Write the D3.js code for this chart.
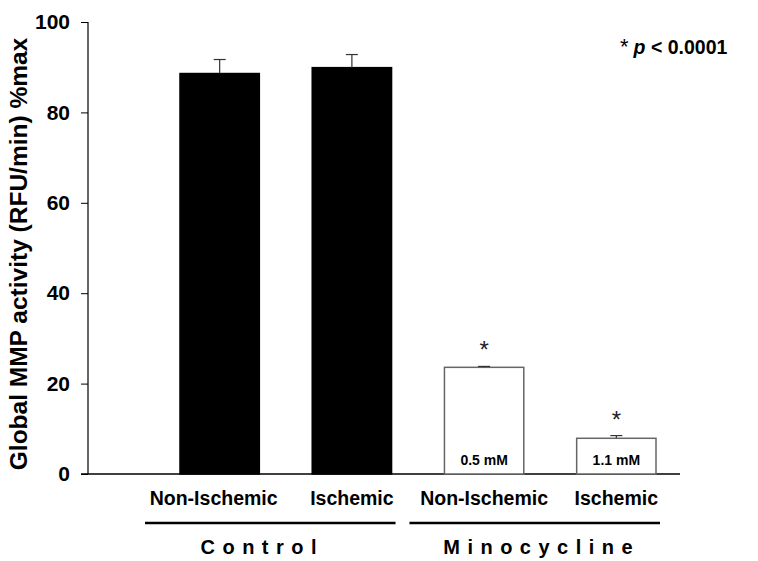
<!DOCTYPE html>
<html>
<head>
<meta charset="utf-8">
<script src="https://cdn.jsdelivr.net/npm/d3@7"></script>
<style>
  body { margin: 0; background: #fff; }
  text { font-family: Arial, "Liberation Sans", sans-serif; }
</style>
</head>
<body>
<script>
// chart data
const conditions = ["Non-Ischemic", "Ischemic", "Non-Ischemic ", "Ischemic "];
const groups = ["Control", "Control", "Minocycline", "Minocycline"];
const activity = [88.6, 89.9, 23.6, 7.9];
const sem = [3.1, 2.9, 0.2, 0.6];
const doses = [null, null, "0.5 mM", "1.1 mM"];
const significant = [false, false, true, true];
const yTicks = [0, 20, 40, 60, 80, 100];

const width = 758, height = 561;
const svg = d3.select("body").append("svg")
  .attr("width", width)
  .attr("height", height);

const x = d3.scaleBand()
  .domain(conditions)
  .range([180, 656])
  .paddingInner(0.4)
  .paddingOuter(0);

const y = d3.scaleLinear().domain([0, 100]).range([474, 22]);

// y axis
const yAxis = svg.append("g")
  .attr("transform", "translate(88,0)")
  .call(d3.axisLeft(y).tickValues(yTicks).tickSize(7).tickPadding(11));
yAxis.select(".domain").attr("stroke", "#000").attr("stroke-width", 1.2)
  .attr("d", `M0,${y(100)}V${y(0)}`);
yAxis.selectAll(".tick line").attr("stroke", "#000");
yAxis.selectAll(".tick text")
  .attr("font-size", 21).attr("font-weight", "bold").attr("fill", "#000")
  .style("font-family", "Arial, 'Liberation Sans', sans-serif");

// x baseline
svg.append("line")
  .attr("x1", 81).attr("x2", 680)
  .attr("y1", y(0)).attr("y2", y(0))
  .attr("stroke", "#000").attr("stroke-width", 1.5);

// bars
svg.selectAll("rect.bar")
  .data(conditions)
  .enter().append("rect")
  .attr("class", "bar")
  .attr("x", d => x(d))
  .attr("width", x.bandwidth())
  .attr("y", (d, i) => y(activity[i]))
  .attr("height", (d, i) => y(0) - y(activity[i]))
  .attr("fill", (d, i) => groups[i] === "Control" ? "#000" : "#fff")
  .attr("stroke", (d, i) => groups[i] === "Control" ? "#000" : "#666")
  .attr("stroke-width", 1.5);

// error bars (upper only)
const err = svg.selectAll("g.err")
  .data(conditions)
  .enter().append("g")
  .attr("class", "err");
err.append("line")
  .attr("x1", d => x(d) + x.bandwidth() / 2)
  .attr("x2", d => x(d) + x.bandwidth() / 2)
  .attr("y1", (d, i) => y(activity[i]))
  .attr("y2", (d, i) => y(activity[i] + sem[i]))
  .attr("stroke", "#333").attr("stroke-width", 1.2);
err.append("line")
  .attr("x1", d => x(d) + x.bandwidth() / 2 - 6)
  .attr("x2", d => x(d) + x.bandwidth() / 2 + 6)
  .attr("y1", (d, i) => y(activity[i] + sem[i]))
  .attr("y2", (d, i) => y(activity[i] + sem[i]))
  .attr("stroke", "#333").attr("stroke-width", 1.2);

// significance stars
svg.selectAll("text.star")
  .data(conditions.filter((d, i) => significant[i]))
  .enter().append("text")
  .attr("class", "star")
  .attr("x", d => x(d) + x.bandwidth() / 2)
  .attr("y", d => {
    const i = conditions.indexOf(d);
    return y(activity[i] + sem[i]) - 8;
  })
  .attr("text-anchor", "middle")
  .attr("font-size", 24)
  .attr("fill", "#222")
  .text("*");

// dose labels inside bars
svg.selectAll("text.dose")
  .data(conditions.filter((d, i) => doses[i]))
  .enter().append("text")
  .attr("class", "dose")
  .attr("x", d => x(d) + x.bandwidth() / 2)
  .attr("y", y(0) - 9)
  .attr("text-anchor", "middle")
  .attr("font-size", 14)
  .attr("font-weight", "bold")
  .text(d => doses[conditions.indexOf(d)]);

// category labels
svg.selectAll("text.cat")
  .data(conditions)
  .enter().append("text")
  .attr("class", "cat")
  .attr("x", (d, i) => x(d) + x.bandwidth() / 2 - (i === 0 ? 6 : 0))
  .attr("y", 505)
  .attr("text-anchor", "middle")
  .attr("font-size", 19.5)
  .attr("font-weight", "bold")
  .text(d => d.trim());

// group underlines and labels
const groupNames = ["Control", "Minocycline"];
const groupShift = { Control: -8, Minocycline: 7 };
groupNames.forEach(g => {
  const members = conditions.filter((d, i) => groups[i] === g);
  const x0 = x(members[0]) - 35;
  const x1 = x(members[members.length - 1]) + x.bandwidth() + 4;
  svg.append("line")
    .attr("x1", x0).attr("x2", x1)
    .attr("y1", 523).attr("y2", 523)
    .attr("stroke", "#000").attr("stroke-width", 2.5);
  svg.append("text")
    .attr("x", (x0 + x1) / 2 + groupShift[g])
    .attr("y", 554)
    .attr("text-anchor", "middle")
    .attr("font-size", 20)
    .attr("font-weight", "bold")
    .attr("letter-spacing", 7.5)
    .text(g);
});

// y axis title
svg.append("text")
  .attr("transform", "translate(27,254) rotate(-90)")
  .attr("text-anchor", "middle")
  .attr("font-size", 24.5)
  .attr("font-weight", "bold")
  .text("Global MMP activity (RFU/min) %max");

// p-value note
const note = svg.append("text")
  .attr("x", 620).attr("y", 54)
  .attr("font-size", 19.5)
  .attr("font-weight", "bold");
note.append("tspan").attr("font-size", 22).attr("font-weight", "normal").text("*");
note.append("tspan").attr("dx", 5).attr("font-style", "italic").text("p");
note.append("tspan").text(" < 0.0001");
</script>
</body>
</html>
